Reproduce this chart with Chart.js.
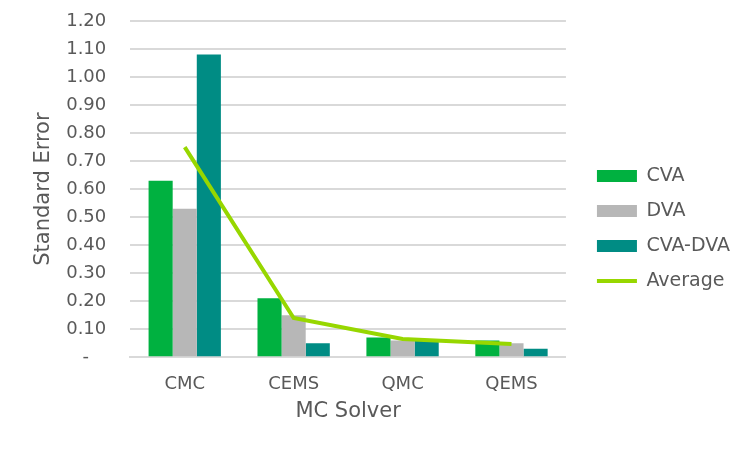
<!DOCTYPE html>
<html>
<head>
<meta charset="utf-8">
<script src="https://cdn.jsdelivr.net/npm/chart.js@4.4.0/dist/chart.umd.min.js"></script>
<style>
  html, body { margin: 0; padding: 0; background: #fff; }
  #wrap { width: 750px; height: 449px; position: relative; }
</style>
</head>
<body>
<div id="wrap"><canvas id="chart"></canvas></div>
<script>
// Standard error by MC solver
const solvers = ['CMC', 'CEMS', 'QMC', 'QEMS'];
const cvaErr = [0.63, 0.21, 0.07, 0.06];
const dvaErr = [0.53, 0.15, 0.06, 0.05];
const cvaDvaErr = [1.08, 0.05, 0.06, 0.03];
const avgErr = [0.75, 0.14, 0.065, 0.047];

const FONT = 'DejaVu Sans, Verdana, sans-serif';
const TEXT = '#595959';
const GRID = '#d9d9d9';

// nudge the legend to the right / down after layout, like the original
const legendShift = {
    id: 'legendShift',
    afterLayout(chart) {
        const lg = chart.legend;
        if (!lg) return;
        lg.left += 15; lg.right += 15;
        lg.top += 4; lg.bottom += 4;
    }
};

const ctx = document.getElementById('chart').getContext('2d');
new Chart(ctx, {
    data: {
        labels: solvers,
        datasets: [
            { type: 'bar', label: 'CVA', data: cvaErr, backgroundColor: '#00b140', order: 2 },
            { type: 'bar', label: 'DVA', data: dvaErr, backgroundColor: '#b7b7b7', order: 2 },
            { type: 'bar', label: 'CVA-DVA', data: cvaDvaErr, backgroundColor: '#008c84', order: 2 },
            {
                type: 'line', label: 'Average', data: avgErr,
                borderColor: '#97d700', backgroundColor: '#97d700',
                borderWidth: 4, pointRadius: 0, tension: 0, order: 1
            }
        ]
    },
    options: {
        responsive: true,
        maintainAspectRatio: false,
        animation: false,
        layout: { padding: { top: 21, left: 27, right: 25, bottom: 21 } },
        datasets: {
            bar: { categoryPercentage: 0.664, barPercentage: 1.0 }
        },
        plugins: {
            tooltip: { enabled: false },
            legend: {
                position: 'right',
                labels: {
                    usePointStyle: true,
                    pointStyleWidth: 40,
                    boxHeight: 12,
                    padding: 16,
                    color: TEXT,
                    font: { family: FONT, size: 19 },
                    generateLabels: function(chart) {
                        return chart.data.datasets.map((ds, i) => ({
                            text: ds.label,
                            fillStyle: ds.backgroundColor,
                            strokeStyle: ds.type === 'line' ? ds.borderColor : ds.backgroundColor,
                            lineWidth: ds.type === 'line' ? 4 : 0,
                            pointStyle: ds.type === 'line' ? 'line' : 'rect',
                            fontColor: TEXT,
                            datasetIndex: i
                        }));
                    }
                }
            }
        },
        scales: {
            x: {
                grid: { display: false, drawTicks: false },
                border: { display: true, color: GRID, width: 2 },
                ticks: { color: TEXT, font: { family: FONT, size: 18 }, padding: 16 },
                title: { display: true, text: 'MC Solver', color: TEXT, font: { family: FONT, size: 21 }, padding: { top: -12 } }
            },
            y: {
                min: 0,
                max: 1.2,
                grid: { color: GRID, lineWidth: 2, drawTicks: false },
                border: { display: false },
                afterFit: function(scale) {
                    // tick padding otherwise pushes the plot top down
                    scale.paddingTop = 0;
                },
                ticks: {
                    stepSize: 0.1,
                    color: TEXT,
                    font: { family: FONT, size: 18 },
                    padding: 24,
                    callback: v => Math.abs(v) < 1e-9 ? '-   ' : v.toFixed(2)
                },
                title: { display: true, text: 'Standard Error', color: TEXT, font: { family: FONT, size: 21 }, padding: { bottom: -14 } }
            }
        }
    },
    plugins: [legendShift]
});
</script>
</body>
</html>
